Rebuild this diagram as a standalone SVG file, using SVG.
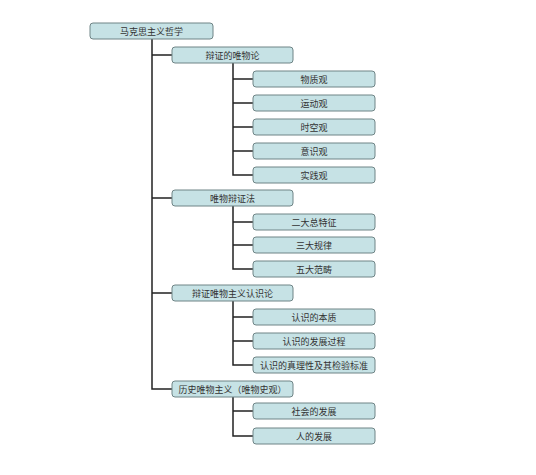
<svg xmlns="http://www.w3.org/2000/svg" width="536" height="475" viewBox="0 0 536 475">
<style>
.box{fill:#c6e2e5;stroke:#6f8486;stroke-width:1}
.t{font-family:"Noto Sans CJK SC","Liberation Sans",sans-serif;font-size:9px;fill:#333;text-anchor:middle}
.ln{stroke:#222;stroke-width:1.5;fill:none}
</style>
<rect width="536" height="475" fill="#fff"/>
<g id="connectors">
<path class="ln" d="M152 39V389H172M152 55H172M152 198H172M152 293H172"/>
<path class="ln" d="M233 63V175H253M233 79H253M233 103H253M233 127H253M233 151H253"/>
<path class="ln" d="M233 206V269H253M233 222H253M233 245H253"/>
<path class="ln" d="M233 301V365H253M233 317H253M233 341H253"/>
<path class="ln" d="M233 396V436H253M233 411H253"/>
</g>
<g id="n0"><rect class="box" x="90" y="23" width="123" height="16" rx="3"/><text class="t" x="151.5" y="34.5">马克思主义哲学</text></g>
<g id="n1"><rect class="box" x="172" y="47" width="121" height="16" rx="3"/><text class="t" x="232.5" y="58.5">辩证的唯物论</text></g>
<g id="n1a"><rect class="box" x="253" y="71" width="122" height="16" rx="3"/><text class="t" x="314" y="82.5">物质观</text></g>
<g id="n1b"><rect class="box" x="253" y="95" width="122" height="16" rx="3"/><text class="t" x="314" y="106.5">运动观</text></g>
<g id="n1c"><rect class="box" x="253" y="119" width="122" height="16" rx="3"/><text class="t" x="314" y="130.5">时空观</text></g>
<g id="n1d"><rect class="box" x="253" y="143" width="122" height="16" rx="3"/><text class="t" x="314" y="154.5">意识观</text></g>
<g id="n1e"><rect class="box" x="253" y="167" width="122" height="16" rx="3"/><text class="t" x="314" y="178.5">实践观</text></g>
<g id="n2"><rect class="box" x="172" y="190" width="121" height="16" rx="3"/><text class="t" x="232.5" y="201.5">唯物辩证法</text></g>
<g id="n2a"><rect class="box" x="253" y="214" width="122" height="16" rx="3"/><text class="t" x="314" y="225.5">二大总特征</text></g>
<g id="n2b"><rect class="box" x="253" y="237" width="122" height="16" rx="3"/><text class="t" x="314" y="248.5">三大规律</text></g>
<g id="n2c"><rect class="box" x="253" y="261" width="122" height="16" rx="3"/><text class="t" x="314" y="272.5">五大范畴</text></g>
<g id="n3"><rect class="box" x="172" y="285" width="121" height="16" rx="3"/><text class="t" x="232.5" y="296.5">辩证唯物主义认识论</text></g>
<g id="n3a"><rect class="box" x="253" y="309" width="122" height="16" rx="3"/><text class="t" x="314" y="320.5">认识的本质</text></g>
<g id="n3b"><rect class="box" x="253" y="333" width="122" height="16" rx="3"/><text class="t" x="314" y="344.5">认识的发展过程</text></g>
<g id="n3c"><rect class="box" x="253" y="357" width="122" height="16" rx="3"/><text class="t" x="314" y="368.5">认识的真理性及其检验标准</text></g>
<g id="n4"><rect class="box" x="172" y="381" width="121" height="16" rx="3"/><text class="t" x="232.5" y="392.5">历史唯物主义（唯物史观）</text></g>
<g id="n4a"><rect class="box" x="253" y="403" width="122" height="16" rx="3"/><text class="t" x="314" y="414.5">社会的发展</text></g>
<g id="n4b"><rect class="box" x="253" y="428" width="122" height="16" rx="3"/><text class="t" x="314" y="439.5">人的发展</text></g>
</svg>
